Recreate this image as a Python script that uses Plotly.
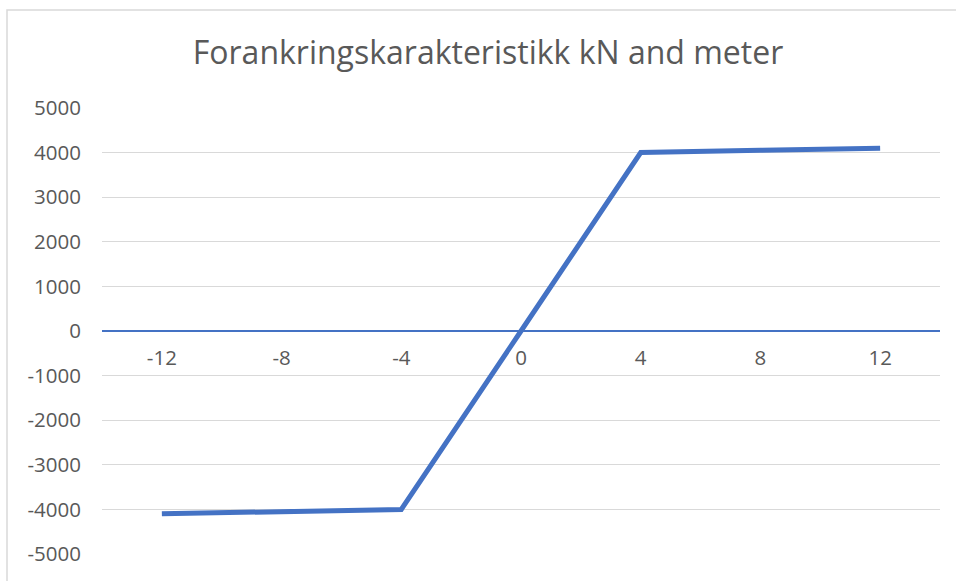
import plotly.graph_objects as go

categories = ["-12", "-8", "-4", "0", "4", "8", "12"]
force_kn = [-4100, -4050, -4000, 0, 4000, 4050, 4100]
y_ticks = [-5000, -4000, -3000, -2000, -1000, 0, 1000, 2000, 3000, 4000, 5000]
title_text = "Forankringskarakteristikk kN and meter"

W, H = 956, 581
ML, MR, MT, MB = 102, 16, 108, 27
pw, ph = W - ML - MR, H - MT - MB

def px_to_paper_x(px):
    return (px - ML) / pw

def px_to_paper_y(py):
    return (H - MB - py) / ph

fig = go.Figure()
fig.add_trace(go.Scatter(
    x=categories, y=force_kn, mode="lines",
    line=dict(color="#4472C4", width=5),
    showlegend=False, hoverinfo="x+y",
))

fig.update_layout(
    width=W, height=H,
    margin=dict(l=ML, r=MR, t=MT, b=MB),
    paper_bgcolor="white", plot_bgcolor="white",
    font=dict(family="Open Sans, Liberation Sans, sans-serif", color="#595959"),
    title=dict(
        text=title_text, x=488 / W, xref="container", xanchor="center",
        y=1 - 53 / H, yref="container", yanchor="middle",
        font=dict(size=32, color="#595959"),
    ),
    xaxis=dict(
        type="category", range=[-0.5, 6.5],
        anchor="free", position=0.5,
        showline=True, linecolor="#4472C4", linewidth=1.5,
        showgrid=False, zeroline=False, ticks="",
        tickfont=dict(size=20.5, color="#595959"),
        ticklabelstandoff=9,
    ),
    yaxis=dict(
        range=[-5000, 5000], tickvals=y_ticks,
        ticktext=[str(v) for v in y_ticks],
        showgrid=True, gridcolor="#d9d9d9", gridwidth=1.3,
        zeroline=False, showline=False, ticks="",
        tickfont=dict(size=20.5, color="#595959"),
        ticklabelstandoff=20,
    ),
    shapes=[dict(
        type="rect", xref="paper", yref="paper",
        x0=px_to_paper_x(7), x1=px_to_paper_x(W + 10),
        y0=px_to_paper_y(H + 10), y1=px_to_paper_y(10),
        line=dict(color="#d9d9d9", width=1.5), fillcolor="rgba(0,0,0,0)",
        layer="below",
    )],
)

fig.write_html("out.html")
